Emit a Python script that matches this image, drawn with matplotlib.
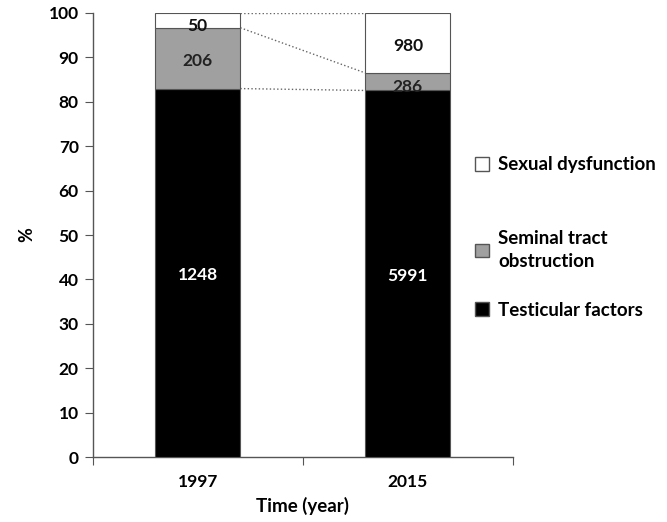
import matplotlib.pyplot as plt
from matplotlib.patches import Patch

plt.rcParams['font.family'] = ['Lato', 'DejaVu Sans']
plt.rcParams['font.weight'] = 'bold'

# data
years = ['1997', '2015']
testicular = [1248, 5991]
seminal = [206, 286]
sexual = [50, 980]
labels = ['Testicular factors', 'Seminal tract\nobstruction', 'Sexual dysfunction']
colors = ['#000000', '#a0a0a0', '#ffffff']
text_colors = ['white', '#222222', '#111111']

series = [testicular, seminal, sexual]
totals = [sum(v) for v in zip(*series)]
pct = [[100.0 * s[i] / totals[i] for i in range(len(years))] for s in series]

fig = plt.figure(figsize=(6.67, 5.22), dpi=100)
ax = fig.add_axes([0.139, 0.1245, 0.630, 0.8506])

xpos = [0.5, 1.5]
w = 0.405
bottoms = [0.0, 0.0]
tops = []
for k, s in enumerate(series):
    ax.bar(xpos, pct[k], w, bottom=bottoms, color=colors[k],
           edgecolor='#555555', linewidth=0.8, label=labels[k], zorder=3)
    for i in range(len(years)):
        yc = bottoms[i] + pct[k][i] / 2 - 0.6
        if pct[k][i] < 5:
            yc = bottoms[i] + pct[k][i] / 2 - 1.3
        ax.text(xpos[i], yc, str(s[i]), ha='center', va='center',
                color=text_colors[k], fontsize=12.5, fontweight='bold', zorder=4)
    bottoms = [bottoms[i] + pct[k][i] for i in range(len(years))]
    tops.append(list(bottoms))

# dotted connectors between bars
for t in tops:
    ax.plot([xpos[0] + w / 2, xpos[1] - w / 2], [t[0], t[1]],
            linestyle=':', color='#666666', linewidth=1.0, zorder=2)

ax.set_xlim(0, 2)
ax.set_ylim(0, 100)
ax.set_yticks(range(0, 101, 10))
ax.set_xticks([0, 1, 2])
ax.set_xticklabels([])
ax.set_xticks(xpos, minor=True)
ax.set_xticklabels(years, minor=True)
ax.tick_params(axis='x', which='minor', length=0, pad=12, labelsize=12.5)
ax.tick_params(axis='x', which='major', length=6, direction='out', color='#555555')
ax.tick_params(axis='y', length=6, direction='out', color='#555555', labelsize=12.5, pad=4)
for lab in ax.get_yticklabels() + ax.get_xticklabels(minor=True):
    lab.set_fontweight('bold')
for sp in ['top', 'right']:
    ax.spines[sp].set_visible(False)
for sp in ['left', 'bottom']:
    ax.spines[sp].set_color('#555555')
    ax.spines[sp].set_linewidth(1.0)

ax.set_ylabel('%', fontsize=13, fontweight='bold', labelpad=10)
ax.set_xlabel('Time (year)', fontsize=13.5, fontweight='bold', labelpad=5)

# legend entries placed one by one (uneven spacing as in the original)
leg_y = [0.406, 0.521, 0.684]
for k in range(3):
    h = Patch(facecolor=colors[k], edgecolor='#555555', label=labels[k])
    leg = fig.legend(handles=[h], loc='center left', bbox_to_anchor=(0.712, leg_y[k]),
                     frameon=False, fontsize=13.5, handlelength=0.75, handleheight=0.75,
                     handletextpad=0.5, borderpad=0, borderaxespad=0)
    for t in leg.get_texts():
        t.set_fontweight('bold')
        t.set_linespacing(1.45)

fig.savefig('out.png', dpi=100)
